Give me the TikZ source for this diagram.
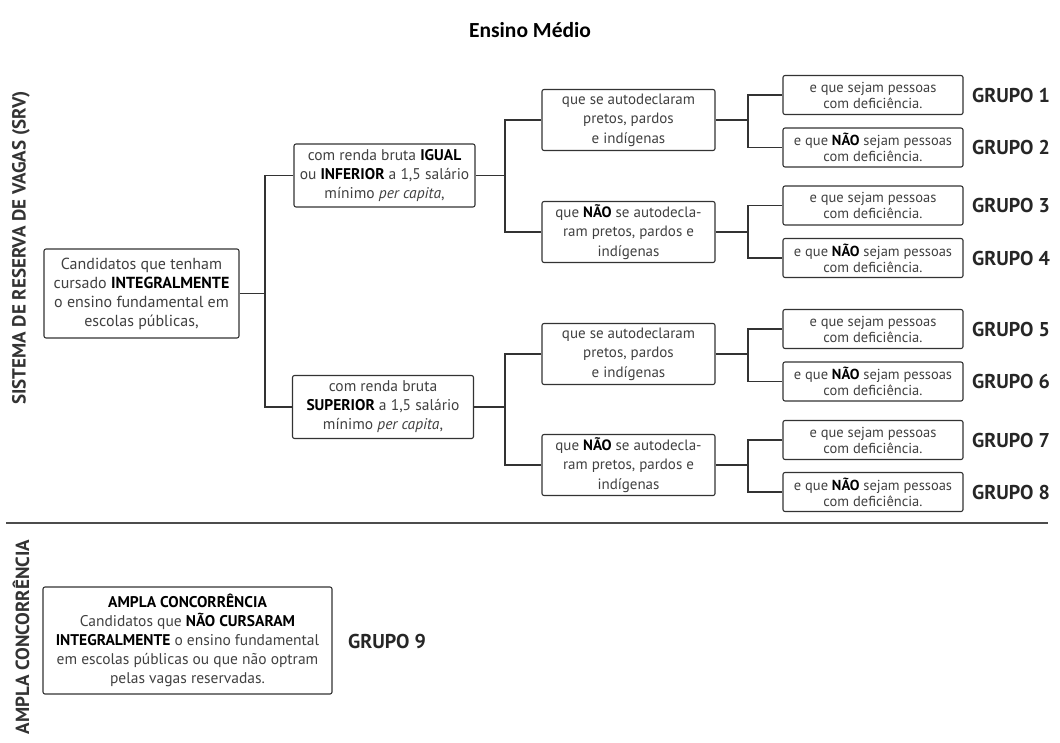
\documentclass[tikz,border=0pt]{standalone}
\usepackage{fontspec}
\setmainfont{PT Sans}
\newfontfamily\titlefont{Carlito}
\begin{document}
\begin{tikzpicture}[x=1pt,y=-1pt,
  box/.style={draw=black!80, line width=1.1pt, rounded corners=2pt, align=center,
    inner sep=0pt, text=black!75, font=\fontsize{11.5}{17}\selectfont},
  mainbox/.style={box, minimum width=195pt, minimum height=89pt, font=\fontsize{16}{19}\selectfont},
  midbox/.style={box, minimum width=181pt, minimum height=63pt, font=\fontsize{15.5}{19}\selectfont},
  subbox/.style={box, minimum width=173pt, minimum height=61pt, font=\fontsize{15}{19.5}\selectfont},
  leafbox/.style={box, minimum width=180pt, minimum height=39pt, font=\fontsize{14.5}{16}\selectfont},
  grp/.style={anchor=west, inner sep=0pt, font=\bfseries\fontsize{20}{22}\selectfont, text=black!85},
  side/.style={rotate=90, inner sep=0pt, font=\bfseries\fontsize{19}{21}\selectfont, text=black!80},
  conn/.style={draw=black!80, line width=1.1pt}]
\useasboundingbox (0,0) rectangle (1060,742);
\node[font=\titlefont\bfseries\fontsize{21.5}{24}\selectfont] (title) at (530,30) {Ensino Médio};

\node[side] (srv) at (21,248) {SISTEMA DE RESERVA DE VAGAS (SRV)};
\node[side] (ac) at (21,637) {AMPLA CONCORRÊNCIA};

\node[mainbox] (main) at (141.5,293.5) {Candidatos que tenham\\cursado \textcolor{black}{\bfseries INTEGRALMENTE}\\o ensino fundamental em\\escolas públicas,};

\node[midbox] (m1) at (384.5,175.5) {com renda bruta \textcolor{black}{\bfseries IGUAL}\\ou \textcolor{black}{\bfseries INFERIOR} a 1,5 salário\\mínimo \emph{per capita},};
\node[midbox] (m2) at (383,407) {com renda bruta\\\textcolor{black}{\bfseries SUPERIOR} a 1,5 salário\\mínimo \emph{per capita},};

\node[subbox] (s1) at (628.5,120) {que se autodeclaram\\pretos, pardos\\e indígenas};
\node[subbox] (s2) at (628.5,232) {que \textcolor{black}{\bfseries NÃO} se autodecla-\\ram pretos, pardos e\\indígenas};
\node[subbox] (s3) at (628.5,354) {que se autodeclaram\\pretos, pardos\\e indígenas};
\node[subbox] (s4) at (628.5,465) {que \textcolor{black}{\bfseries NÃO} se autodecla-\\ram pretos, pardos e\\indígenas};

\node[leafbox] (l1) at (873,95) {e que sejam pessoas\\com deficiência.};
\node[leafbox] (l2) at (873,147.5) {e que \textcolor{black}{\bfseries NÃO} sejam pessoas\\com deficiência.};
\node[leafbox] (l3) at (873,205.5) {e que sejam pessoas\\com deficiência.};
\node[leafbox] (l4) at (873,258) {e que \textcolor{black}{\bfseries NÃO} sejam pessoas\\com deficiência.};
\node[leafbox] (l5) at (873,329) {e que sejam pessoas\\com deficiência.};
\node[leafbox] (l6) at (873,381.5) {e que \textcolor{black}{\bfseries NÃO} sejam pessoas\\com deficiência.};
\node[leafbox] (l7) at (873,440) {e que sejam pessoas\\com deficiência.};
\node[leafbox] (l8) at (873,492) {e que \textcolor{black}{\bfseries NÃO} sejam pessoas\\com deficiência.};

\node[grp] (g1) at (972,95) {GRUPO 1};
\node[grp] (g2) at (972,147.5) {GRUPO 2};
\node[grp] (g3) at (972,205.5) {GRUPO 3};
\node[grp] (g4) at (972,258) {GRUPO 4};
\node[grp] (g5) at (972,329) {GRUPO 5};
\node[grp] (g6) at (972,381.5) {GRUPO 6};
\node[grp] (g7) at (972,440) {GRUPO 7};
\node[grp] (g8) at (972,492) {GRUPO 8};

% connectors
\coordinate (j0) at (265,293.5);
\draw[conn] (main.east) -- (j0);
\draw[conn] (m1.west) -| (j0) |- (m2.west);

\coordinate (j1) at (505,175.5);
\draw[conn] (m1.east) -- (j1);
\draw[conn] (s1.west) -| (j1) |- (s2.west);
\coordinate (j2) at (505,407);
\draw[conn] (m2.east) -- (j2);
\draw[conn] (s3.west) -| (j2) |- (s4.west);

\coordinate (k1) at (748,120);
\draw[conn] (s1.east) -- (k1);
\draw[conn] (l1.west) -| (k1) |- (l2.west);
\coordinate (k2) at (748,232);
\draw[conn] (s2.east) -- (k2);
\draw[conn] (l3.west) -| (k2) |- (l4.west);
\coordinate (k3) at (748,354);
\draw[conn] (s3.east) -- (k3);
\draw[conn] (l5.west) -| (k3) |- (l6.west);
\coordinate (k4) at (748,465);
\draw[conn] (s4.east) -- (k4);
\draw[conn] (l7.west) -| (k4) |- (l8.west);

% separator
\coordinate (sepL) at (6,523);
\coordinate (sepR) at (1048,523);
\draw[draw=black!70, line width=1.8pt] (sepL) -- (sepR);

\node[box, minimum width=289pt, minimum height=107pt, font=\fontsize{15.5}{19}\selectfont] (ampla) at (187.5,640.5)
  {\textcolor{black}{\bfseries AMPLA CONCORRÊNCIA}\\Candidatos que \textcolor{black}{\bfseries NÃO CURSARAM}\\\textcolor{black}{\bfseries INTEGRALMENTE} o ensino fundamental\\em escolas públicas ou que não optram\\pelas vagas reservadas.};
\node[grp] (g9) at (348,641) {GRUPO 9};
\end{tikzpicture}
\end{document}
